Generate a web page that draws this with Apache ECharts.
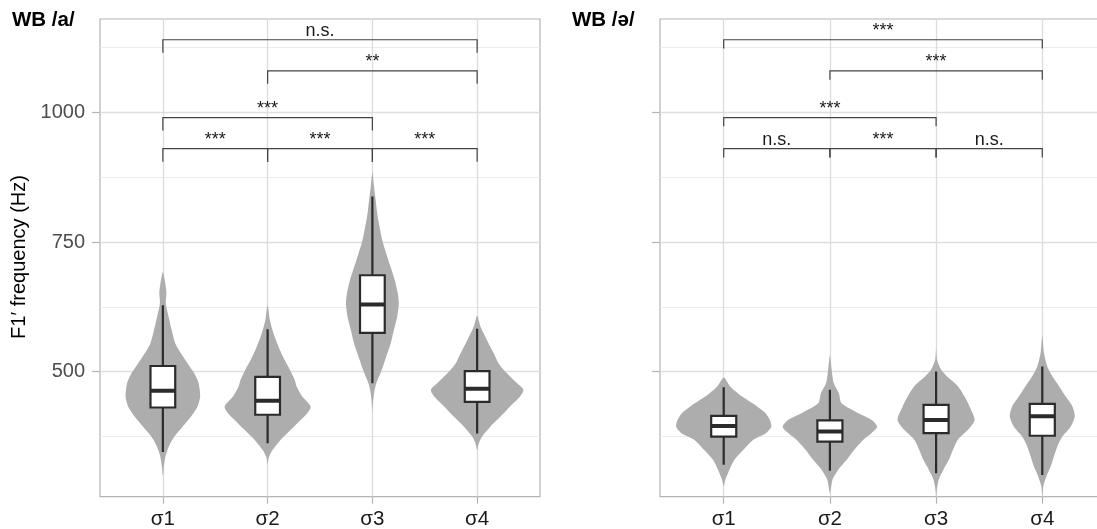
<!DOCTYPE html>
<html><head><meta charset="utf-8">
<script src="https://cdn.jsdelivr.net/npm/echarts@6/dist/echarts.min.js"></script>
<style>html,body{margin:0;padding:0;background:#fff}#c{width:1097px;height:529px}</style>
</head><body><div id="c"></div>
<script>
const categories = ['σ1', 'σ2', 'σ3', 'σ4'];
const panelTitles = ['WB /a/', 'WB /ə/'];
const yAxisName = 'F1′ frequency (Hz)';
const yTickValues = [500, 750, 1000];
const yMinorValues = [375, 625, 875, 1125];
const xTickValues = [1, 2, 3, 4];

// box stats: [lower whisker, Q1, median, Q3, upper whisker]
const boxA = [[345, 431, 463.5, 511, 628], [362, 417, 444, 490, 582], [477.5, 575, 629.5, 686, 838], [381, 442, 467, 501, 583]];
const boxSchwa = [[320.5, 375, 395.5, 415, 470], [309, 365, 384.6, 406, 465], [304, 381.5, 407, 436, 500.5], [301, 376.5, 414, 438, 510]];

// violin outlines: [frequency, half-width in category units], top to bottom
const violinA1 = [[692,0],[672,.022],[652,.034],[632,.028],[606,.055],[580,.085],[554,.12],[535,.174],[516,.237],[497,.30],[478,.341],[452,.356],[433,.331],[413,.268],[394,.189],[375,.11],[356,.057],[337,.025],[317,.009],[298,0]];
const violinA2 = [[628,0],[599,.022],[580,.047],[561,.079],[542,.117],[522,.164],[503,.215],[484,.259],[471,.278],[452,.331],[433,.41],[420,.379],[407,.315],[388,.221],[369,.126],[349,.047],[335,.012],[322,0]];
const violinA3 = [[884,0],[856,.016],[830,.032],[804,.047],[779,.069],[753,.095],[728,.132],[702,.174],[676,.215],[651,.243],[631,.252],[606,.237],[580,.205],[554,.174],[529,.132],[503,.088],[478,.038],[458,.016],[433,.003],[420,0]];
const violinA4 = [[608,0],[587,.032],[567,.079],[548,.126],[529,.174],[516,.205],[497,.284],[478,.379],[465,.442],[452,.41],[433,.315],[413,.221],[394,.126],[375,.047],[362,.016],[349,0]];
const violinS1 = [[489,0],[471,.063],[452,.174],[433,.315],[420,.394],[407,.435],[394,.448],[381,.394],[369,.278],[349,.183],[330,.101],[311,.054],[292,.016],[279,0]];
const violinS2 = [[531,0],[503,.017],[478,.036],[458,.085],[439,.11],[420,.268],[407,.394],[394,.445],[381,.388],[369,.315],[349,.227],[330,.158],[311,.079],[292,.025],[266,0]];
const violinS3 = [[544,0],[523,.009],[504,.047],[491,.101],[472,.205],[452,.268],[433,.315],[407,.363],[388,.30],[369,.205],[349,.158],[330,.12],[311,.069],[292,.025],[272,.006],[259,0]];
const violinS4 = [[570,0],[536,.016],[510,.047],[491,.095],[472,.158],[452,.221],[433,.284],[414,.306],[394,.268],[375,.189],[356,.142],[337,.11],[317,.079],[298,.038],[279,.009],[259,0]];

// significance brackets: [from category, to category, bracket height]
const bracketsA = [[1,4,1140],[2,4,1080],[1,3,990],[1,2,930],[2,3,930],[3,4,930]];
const bracketLabelsA = ['n.s.', '**', '***', '***', '***', '***'];
const bracketsSchwa = [[1,4,1140],[2,4,1080],[1,3,990],[1,2,930],[2,3,930],[3,4,930]];
const bracketLabelsSchwa = ['***', '***', '***', 'n.s.', '***', 'n.s.'];

const FONT = "'Liberation Sans', Arial, Helvetica, sans-serif";
const Y_MIN = 259, Y_MAX = 1180;

function violinRender(profiles) {
  return function (params, api) {
    const x = api.value(0);
    const prof = profiles[params.dataIndex];
    const right = prof.map(([v, hw]) => api.coord([x + hw, v]));
    const left = prof.map(([v, hw]) => api.coord([x - hw, v])).reverse();
    return { type: 'polygon', shape: { points: right.concat(left.slice(1, -1)), smooth: 0.25 },
      style: { fill: '#ADADAD', stroke: null } };
  };
}
function boxRender(stats) {
  return function (params, api) {
    const x = api.value(0);
    const [wl, q1, md, q3, wh] = stats[params.dataIndex];
    const hw = 0.118;
    const tl = api.coord([x - hw, q3]), br = api.coord([x + hw, q1]);
    const cTop = api.coord([x, wh]), cQ3 = api.coord([x, q3]), cQ1 = api.coord([x, q1]), cBot = api.coord([x, wl]);
    const mL = api.coord([x - hw, md]), mR = api.coord([x + hw, md]);
    const stroke = '#2b2b2b';
    return { type: 'group', children: [
      { type: 'line', shape: { x1: cTop[0], y1: cTop[1], x2: cQ3[0], y2: cQ3[1] }, style: { stroke, lineWidth: 2.2 } },
      { type: 'line', shape: { x1: cQ1[0], y1: cQ1[1], x2: cBot[0], y2: cBot[1] }, style: { stroke, lineWidth: 2.2 } },
      { type: 'rect', shape: { x: tl[0], y: tl[1], width: br[0] - tl[0], height: br[1] - tl[1] }, style: { fill: '#fff', stroke, lineWidth: 2.2 } },
      { type: 'line', shape: { x1: mL[0], y1: mL[1], x2: mR[0], y2: mR[1] }, style: { stroke, lineWidth: 4 } }
    ] };
  };
}
function bracketRender(labels, tip) {
  return function (params, api) {
    const x1 = api.value(0), x2 = api.value(1), y = api.value(2);
    const p1 = api.coord([x1, y]), p2 = api.coord([x2, y]);
    const t = api.coord([x1, y - tip])[1] - p1[1];
    return { type: 'group', children: [
      { type: 'polyline', shape: { points: [[p1[0], p1[1] + t], [p1[0], p1[1]], [p2[0], p2[1]], [p2[0], p2[1] + t]] },
        style: { stroke: '#444', lineWidth: 1.2, fill: null } },
      { type: 'text', x: (p1[0] + p2[0]) / 2, y: p1[1] + 0.5,
        style: { text: labels[params.dataIndex], fill: '#1a1a1a', font: '18px ' + FONT, textAlign: 'center', textVerticalAlign: 'bottom' } }
    ] };
  };
}

const grids = [
  { left: 100, top: 19, width: 440, height: 477.7 },
  { left: 660, top: 19, width: 446, height: 477.7 }
].map(g => Object.assign(g, { show: true, borderColor: '#b3b3b3', borderWidth: 1.2, backgroundColor: 'transparent', containLabel: false, outerBoundsMode: 'none' }));

const xAxes = [0, 1].map(i => ({
  type: 'value', gridIndex: i, min: 0.4, max: 4.6,
  axisLine: { show: false },
  axisTick: { show: true, length: 7, customValues: xTickValues, lineStyle: { color: '#b3b3b3', width: 1.2 } },
  axisLabel: { customValues: xTickValues, formatter: v => categories[Math.round(v) - 1], color: '#1a1a1a', fontSize: 20.5, margin: 12, fontFamily: FONT },
  splitLine: { show: true, lineStyle: { color: '#dcdcdc', width: 1.3 } }
}));

const yAxes = [];
[0, 1].forEach(i => {
  yAxes.push({
    type: 'value', gridIndex: i, min: Y_MIN, max: Y_MAX, position: 'left',
    axisLine: { show: false },
    axisTick: { show: false, customValues: yMinorValues },
    axisLabel: { show: false, customValues: yMinorValues },
    splitLine: { show: true, lineStyle: { color: '#ececec', width: 1 } }
  });
  yAxes.push({
    type: 'value', gridIndex: i, min: Y_MIN, max: Y_MAX, position: 'left',
    axisLine: { show: false },
    axisTick: { show: true, length: 8, customValues: yTickValues, lineStyle: { color: '#b3b3b3', width: 1.2 } },
    axisLabel: { show: i === 0, customValues: yTickValues, formatter: v => String(v), color: '#4d4d4d', fontSize: 20, margin: 15, fontFamily: FONT },
    splitLine: { show: true, lineStyle: { color: '#dedede', width: 1.4 } }
  });
});

const panels = [
  { violins: [violinA1, violinA2, violinA3, violinA4], box: boxA, br: bracketsA, labels: bracketLabelsA, tip: 25 },
  { violins: [violinS1, violinS2, violinS3, violinS4], box: boxSchwa, br: bracketsSchwa, labels: bracketLabelsSchwa, tip: 17 }
];
const series = [];
panels.forEach((p, i) => {
  const base = { type: 'custom', xAxisIndex: i, yAxisIndex: 2 * i + 1, coordinateSystem: 'cartesian2d', clip: true, silent: true };
  series.push(Object.assign({}, base, { z: 2, renderItem: violinRender(p.violins), data: categories.map((c, k) => [k + 1, p.box[k][2]]) }));
  series.push(Object.assign({}, base, { z: 3, renderItem: boxRender(p.box), data: categories.map((c, k) => [k + 1, p.box[k][2]]) }));
  series.push(Object.assign({}, base, { z: 4, clip: false, renderItem: bracketRender(p.labels, p.tip), data: p.br }));
});

const chart = echarts.init(document.getElementById('c'), null, { renderer: 'canvas' });
chart.setOption({
  animation: false,
  backgroundColor: '#fff',
  title: [
    { text: panelTitles[0], left: 12, top: 10, padding: 0, textStyle: { fontSize: 20.5, fontWeight: 'bold', color: '#000', fontFamily: FONT } },
    { text: panelTitles[1], left: 572, top: 10, padding: 0, textStyle: { fontSize: 20.5, fontWeight: 'bold', color: '#000', fontFamily: FONT } }
  ],
  graphic: [{ type: 'text', x: 19, y: 257, rotation: Math.PI / 2,
    style: { text: yAxisName, fill: '#000', font: '20px ' + FONT, textAlign: 'center', textVerticalAlign: 'middle' } }],
  grid: grids, xAxis: xAxes, yAxis: yAxes, series
});
</script></body></html>
